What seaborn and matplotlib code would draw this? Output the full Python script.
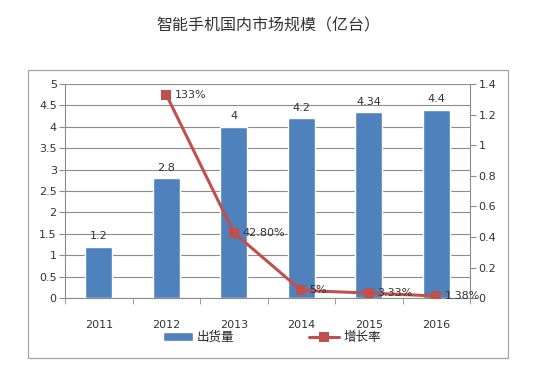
import numpy as np
import pandas as pd
import seaborn as sns
import matplotlib.pyplot as plt
from matplotlib.patches import Rectangle

years = ["2011", "2012", "2013", "2014", "2015", "2016"]
shipments = [1.2, 2.8, 4.0, 4.2, 4.34, 4.4]
growth = [np.nan, 1.33, 0.428, 0.05, 0.0333, 0.0138]
bar_labels = ["1.2", "2.8", "4", "4.2", "4.34", "4.4"]
growth_labels = ["", "133%", "42.80%", "5%", "3.33%", "1.38%"]

sns.set_style("white")
plt.rcParams["font.family"] = ["DejaVu Sans", "Noto Sans CJK SC"]

bar_color = "#4F81BD"
line_color = "#C0504D"
grid_color = "#8c8c8c"

df = pd.DataFrame({"Year": years, "Shipments": shipments, "Growth": growth,
                   "pos": range(len(years))})

fig = plt.figure(figsize=(5.33, 3.75), dpi=100)
ax = fig.add_axes([0.122, 0.205, 0.760, 0.571])

# outer chart frame
fig.patches.append(Rectangle((28 / 533, 1 - 358 / 375), 480 / 533, 288 / 375,
                             transform=fig.transFigure, fill=False,
                             edgecolor="#a6a6a6", linewidth=0.9))

sns.barplot(data=df, x="Year", y="Shipments", ax=ax, color=bar_color,
            width=0.4, saturation=1, label="出货量")
if ax.get_legend() is not None:
    ax.get_legend().remove()
ax.set_ylim(0, 5)
ax.set_xlim(-0.5, 5.5)
ax.set_yticks(np.arange(0, 5.01, 0.5))
ax.set_yticklabels(["0", "0.5", "1", "1.5", "2", "2.5", "3", "3.5", "4", "4.5", "5"])
ax.yaxis.grid(True, color=grid_color, linewidth=0.8)
ax.set_axisbelow(True)
for side in ["top", "right"]:
    ax.spines[side].set_visible(False)
ax.spines["left"].set_color(grid_color)
ax.spines["bottom"].set_color(grid_color)
ax.tick_params(axis="y", which="major", left=True, length=4, color=grid_color,
               labelsize=8, labelcolor="#333333", pad=2)
ax.tick_params(axis="x", which="major", bottom=False, labelsize=8,
               labelcolor="#333333", pad=12)
ax.set_xticks(np.arange(-0.5, 5.6, 1), minor=True)
ax.tick_params(axis="x", which="minor", bottom=True, length=4, color=grid_color)
ax.set_xlabel("")
ax.set_ylabel("")

ax.bar_label(ax.containers[0], labels=bar_labels, padding=4, fontsize=8,
             color="#333333")

ax2 = ax.twinx()
sns.lineplot(data=df, x="pos", y="Growth", ax=ax2, color=line_color,
             linewidth=2.2, marker="s", markersize=7, markeredgewidth=0,
             label="增长率", legend=False)
ax2.set_ylim(0, 1.4)
ax2.set_yticks(np.arange(0, 1.41, 0.2))
ax2.set_yticklabels(["0", "0.2", "0.4", "0.6", "0.8", "1", "1.2", "1.4"])
for side in ["top", "left", "bottom"]:
    ax2.spines[side].set_visible(False)
ax2.spines["right"].set_color(grid_color)
ax2.tick_params(axis="y", right=True, length=4, color=grid_color, labelsize=8,
                labelcolor="#333333", pad=2)
ax2.set_xlabel("")
ax2.set_ylabel("")
ax2.set_xlim(-0.5, 5.5)

for i, (g, lab) in enumerate(zip(growth, growth_labels)):
    if lab:
        ax2.annotate(lab, (i, g), xytext=(6, 0), textcoords="offset points",
                     va="center", ha="left", fontsize=8, color="#333333")

h1, l1 = ax.get_legend_handles_labels()
h2, l2 = ax2.get_legend_handles_labels()
fig.legend(h1 + h2, l1 + l2, loc="center", bbox_to_anchor=(0.51, 0.1),
           ncol=2, frameon=False, fontsize=9, columnspacing=6,
           handlelength=2.4, handletextpad=0.3)

fig.text(0.503, 0.93, "智能手机国内市场规模（亿台）", ha="center", va="center",
         fontsize=11.5, color="#333333", family=["Noto Sans CJK SC", "DejaVu Sans"])

fig.savefig("out.png", dpi=100)
